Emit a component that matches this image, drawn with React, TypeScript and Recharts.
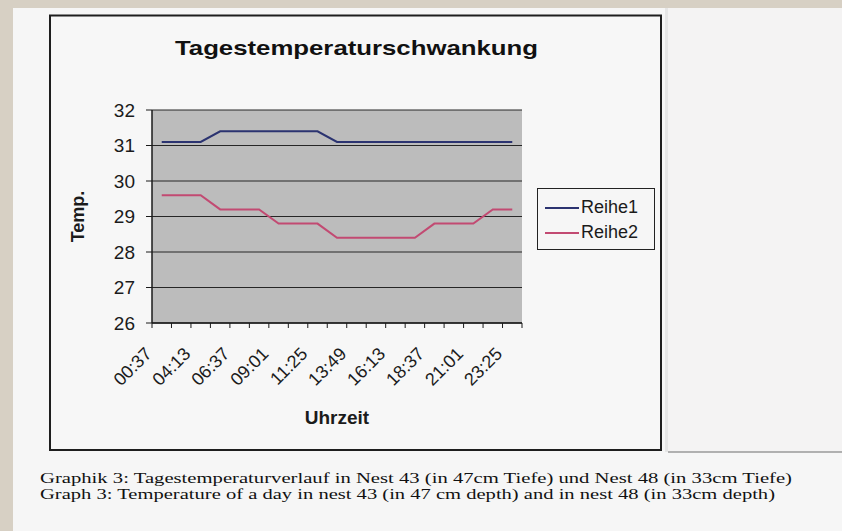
import React from 'react';
import { LineChart, Line, XAxis, YAxis, CartesianGrid, Legend } from 'recharts';

const times = ['00:37', '02:25', '04:13', '05:25', '06:37', '07:49', '09:01', '10:13', '11:25', '12:37', '13:49', '15:01', '16:13', '17:25', '18:37', '19:49', '21:01', '22:13', '23:25'];
const reihe1 = [31.1, 31.1, 31.1, 31.4, 31.4, 31.4, 31.4, 31.4, 31.4, 31.1, 31.1, 31.1, 31.1, 31.1, 31.1, 31.1, 31.1, 31.1, 31.1];
const reihe2 = [29.6, 29.6, 29.6, 29.2, 29.2, 29.2, 28.8, 28.8, 28.8, 28.4, 28.4, 28.4, 28.4, 28.4, 28.8, 28.8, 28.8, 29.2, 29.2];
const yTicks = [26, 27, 28, 29, 30, 31, 32];

const data = times.map((t, i) => ({ t, Reihe1: reihe1[i], Reihe2: reihe2[i] }));

const SANS = 'Liberation Sans, Arial, sans-serif';
const SERIF = 'Liberation Serif, Times New Roman, serif';
const INK = '#1b1b1b';
const PLOT_LEFT = 152;
const PLOT_RIGHT = 522;
const BAND = (PLOT_RIGHT - PLOT_LEFT) / times.length;

const XTick = (props: any) => {
  const { x, y, payload, index } = props;
  const left = x - BAND / 2;
  const right = x + BAND / 2;
  return (
    <g>
      <line x1={left} y1={y} x2={left} y2={y + 5} stroke={INK} strokeWidth={1} />
      {index === times.length - 1 && (
        <line x1={right} y1={y} x2={right} y2={y + 5} stroke={INK} strokeWidth={1} />
      )}
      {index % 2 === 0 && (
        <text
          x={x - 9}
          y={y + 32}
          transform={`rotate(-45, ${x - 9}, ${y + 32})`}
          textAnchor="end"
          fontFamily={SANS}
          fontSize={18}
          fill={INK}
        >
          {payload.value}
        </text>
      )}
    </g>
  );
};

const LegendBox = (props: any) => {
  const { payload } = props;
  return (
    <div
      style={{
        border: '1px solid #222',
        background: '#f6f6f6',
        width: 118,
        height: 62,
        boxSizing: 'border-box',
        padding: '6px 0 0 7px',
      }}
    >
      {(payload || []).map((p: any) => (
        <div key={p.value} style={{ display: 'flex', alignItems: 'center', height: 25, fontFamily: SANS, fontSize: 18, color: INK }}>
          <span style={{ display: 'inline-block', width: 34, height: 2, background: p.color, marginRight: 2 }} />
          <span>{p.value}</span>
        </div>
      ))}
    </div>
  );
};

export default function App() {
  return (
    <div style={{ position: 'absolute', left: 0, top: 0, width: 842, height: 531, background: '#d7d0c4', overflow: 'hidden' }}>
      <svg width={842} height={531} style={{ position: 'absolute', left: 0, top: 0 }}>
        <rect x={13} y={8} width={829} height={523} fill="#f6f6f6" />
        <rect x={665} y={8} width={3} height={444} fill="#e6e6e6" />
        <rect x={668} y={8} width={174} height={444} fill="#f4f3f3" />
        <line x1={668} y1={452} x2={842} y2={452} stroke="#9a9a9a" strokeWidth={1.5} />
        <rect x={50} y={15.5} width={611} height={434.5} fill="#f7f7f7" stroke="#1e1e1e" strokeWidth={2} />
        <text x={175} y={55} textLength={363} lengthAdjust="spacingAndGlyphs" fontFamily={SANS} fontWeight="bold" fontSize={21} fill="#111">
          Tagestemperaturschwankung
        </text>
        <text x={40} y={483} textLength={752} lengthAdjust="spacingAndGlyphs" fontFamily={SERIF} fontSize={14.5} fill="#111">
          Graphik 3: Tagestemperaturverlauf in Nest 43 (in 47cm Tiefe) und Nest 48 (in 33cm Tiefe)
        </text>
        <text x={40} y={499} textLength={735} lengthAdjust="spacingAndGlyphs" fontFamily={SERIF} fontSize={14.5} fill="#111">
          Graph 3: Temperature of a day in nest 43 (in 47 cm depth) and in nest 48 (in 33cm depth)
        </text>
      </svg>
      <div style={{ position: 'absolute', left: 0, top: 0 }}>
        <LineChart width={842} height={531} data={data} margin={{ top: 110, right: 842 - PLOT_RIGHT, bottom: 103, left: 0 }}>
          <CartesianGrid fill="#bcbcbc" fillOpacity={1} stroke="#262626" vertical={false} />
          <XAxis
            dataKey="t"
            scale="band"
            interval={0}
            tickLine={false}
            tickSize={0}
            tickMargin={0}
            height={105}
            axisLine={{ stroke: INK, strokeWidth: 1.5 }}
            tick={<XTick />}
            label={{ value: 'Uhrzeit', position: 'insideBottom', offset: 4, style: { fontFamily: SANS, fontWeight: 'bold', fontSize: 19, fill: INK } }}
          />
          <YAxis
            domain={[26, 32]}
            ticks={yTicks}
            width={PLOT_LEFT}
            tickSize={6}
            tickMargin={11}
            axisLine={{ stroke: INK, strokeWidth: 1.5 }}
            tickLine={{ stroke: INK }}
            tick={{ fontFamily: SANS, fontSize: 19, fill: INK }}
            label={{ value: 'Temp.', angle: -90, position: 'insideLeft', offset: 78, style: { textAnchor: 'middle', fontFamily: SANS, fontWeight: 'bold', fontSize: 18, fill: INK } }}
          />
          <YAxis yAxisId="r" orientation="right" width={0} domain={[26, 32]} tick={false} tickLine={false} axisLine={{ stroke: '#555' }} />
          <Legend
            layout="vertical"
            align="center"
            verticalAlign="middle"
            content={<LegendBox />}
            wrapperStyle={{ position: 'absolute', left: 537, top: 188, width: 118, height: 62 }}
          />
          <Line type="linear" dataKey="Reihe1" stroke="#2b3370" strokeWidth={2} dot={false} isAnimationActive={false} />
          <Line type="linear" dataKey="Reihe2" stroke="#c24a72" strokeWidth={2} dot={false} isAnimationActive={false} />
        </LineChart>
      </div>
    </div>
  );
}
